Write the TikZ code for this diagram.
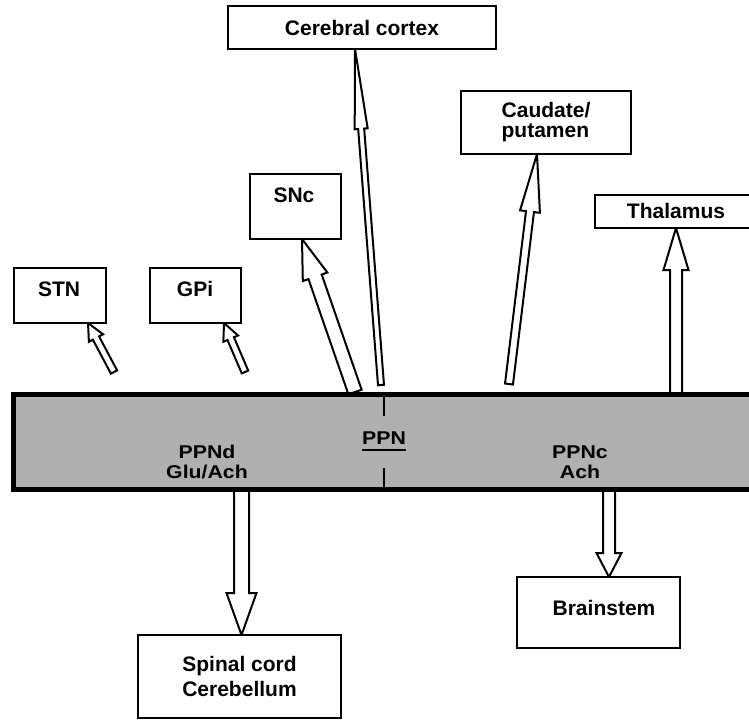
\documentclass[tikz,border=0pt]{standalone}
\usepackage{fontspec}
\setmainfont{Liberation Sans}
\newfontfamily\widefont[FakeStretch=1.15]{Liberation Sans}
\usetikzlibrary{calc,backgrounds}
\newcommand\bfnt{\fontsize{21}{25}\selectfont\bfseries}
\newcommand\wfnt{\widefont\fontsize{18.5}{20}\selectfont\bfseries}
% #1 id, #2 tail, #3 tip, #4 shaft half width, #5 head half width, #6 head length
\newcommand\hollowarrow[6]{%
  \coordinate (#1h) at ($(#3)!#6!(#2)$);
  \draw[arrowline] ($(#2)!#4!90:(#3)$) -- ($(#1h)!#4!90:(#3)$) -- ($(#1h)!#5!90:(#3)$)
    -- (#3) -- ($(#1h)!#5!-90:(#3)$) -- ($(#1h)!#4!-90:(#3)$) -- ($(#2)!#4!-90:(#3)$) -- cycle;}
\begin{document}
\begin{tikzpicture}[x=1pt,y=-1pt,
  box/.style={draw,line width=2.5pt,fill=white,inner sep=0pt,outer sep=0pt},
  lbl/.style={font=\bfnt,inner sep=0pt},
  inlbl/.style={font=\wfnt,inner sep=0pt,align=center},
  arrowline/.style={draw,line width=2pt,fill=white,line join=miter},
  divider/.style={line width=2pt}]
\useasboundingbox (0,0) rectangle (749,721);

% boxes
\node[box,minimum width=268pt,minimum height=43pt,font=\bfnt] (cortex) at (362,27.5) {Cerebral cortex};
\node[box,minimum width=170pt,minimum height=63pt,font=\bfnt,align=left] (caud) at (546,122.5) {Caudate/\\[-5pt]putamen};
\node[box,minimum width=180pt,minimum height=33pt] (thal) at (685,211.5) {};
\node[lbl] (thalL) at (676,211) {Thalamus};
\node[box,minimum width=91pt,minimum height=65pt] (snc) at (295.5,206.5) {};
\node[lbl] (sncL) at (294,195) {SNc};
\node[box,minimum width=92pt,minimum height=55pt] (stn) at (60,295.5) {};
\node[lbl] (stnL) at (59,289) {STN};
\node[box,minimum width=91pt,minimum height=55pt] (gpi) at (195.5,295.5) {};
\node[lbl] (gpiL) at (195,289) {GPi};
\node[box,minimum width=203pt,minimum height=83pt,font=\bfnt,align=center] (spinal) at (239.5,676.5) {Spinal cord\\Cerebellum};
\node[box,minimum width=163pt,minimum height=71pt] (brain) at (598.5,612.5) {};
\node[lbl] (brainL) at (604,608) {Brainstem};

% PPN bar
\node[draw,line width=5pt,fill={rgb,255:red,176;green,176;blue,176},minimum width=751.5pt,minimum height=95pt,inner sep=0pt,outer sep=0pt] (ppn) at (389.25,442) {};
\node[inlbl] (ppnL) at (384,438) {PPN};
\draw[line width=2.5pt] ($(ppnL.south west)+(0,5.5)$) -- ($(ppnL.south east)+(0,5.5)$);
\draw[divider] (ppn.north -| ppnL) ++(0,2.5) -- ++(0,19);
\draw[divider] (ppn.south -| ppnL) ++(0,-2.5) -- ++(0,-19);
\node[inlbl] (ppnd) at (207,462) {PPNd\\Glu/Ach};
\node[inlbl] (ppnc) at (580,462) {PPNc\\Ach};

% connectors
\begin{pgfonlayer}{background}
\coordinate (stnS) at (114,372);
\coordinate (gpiS) at (245,372);
\coordinate (sncS) at (355,392);
\coordinate (cortexS) at (381,385);
\coordinate (caudS) at (509,384);
\coordinate (thalS) at (676,396);
\coordinate (spinS) at (241.5,488);
\coordinate (brainS) at (609,488);
\coordinate (stnT) at ($(stn.south)+(28,0)$);
\coordinate (gpiT) at ($(gpi.south)+(28.5,0)$);
\coordinate (sncT) at ($(snc.south)+(6.5,0)$);
\coordinate (cortexT) at ($(cortex.south)+(-7,0)$);
\coordinate (caudT) at ($(caud.south)+(-9,0)$);
\coordinate (thalT) at (thal.south -| thalS);
\coordinate (spinT) at (spinal.north -| spinS);
\coordinate (brainT) at (brain.north -| brainS);
\hollowarrow{stn}{stnS}{stnT}{3.5pt}{8pt}{17pt}
\hollowarrow{gpi}{gpiS}{gpiT}{3.5pt}{8pt}{17pt}
\hollowarrow{snc}{sncS}{sncT}{7pt}{13pt}{40pt}
\hollowarrow{cortex}{cortexS}{cortexT}{3pt}{6.5pt}{80pt}
\hollowarrow{caud}{caudS}{caudT}{4pt}{10pt}{58pt}
\hollowarrow{thal}{thalS}{thalT}{6pt}{12.5pt}{42pt}
\hollowarrow{spin}{spinS}{spinT}{7.5pt}{15pt}{42pt}
\hollowarrow{brain}{brainS}{brainT}{6pt}{12.5pt}{24pt}
\end{pgfonlayer}
\end{tikzpicture}
\end{document}
